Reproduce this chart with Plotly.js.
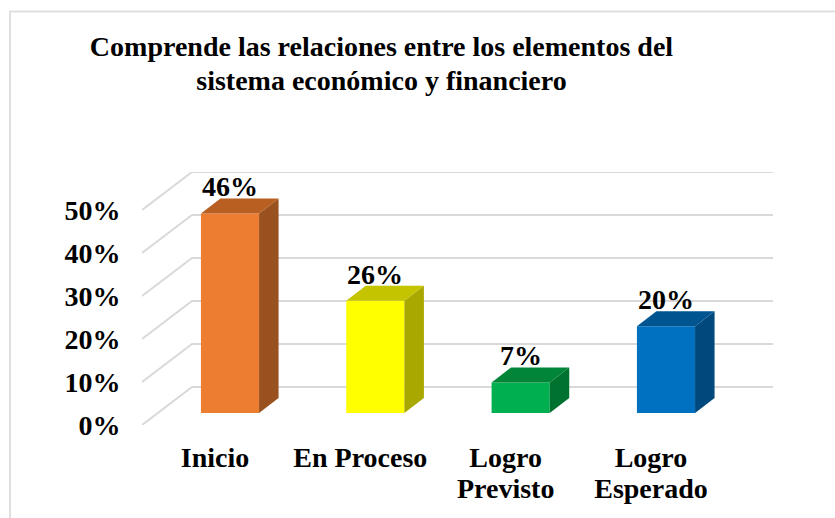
<!DOCTYPE html>
<html><head><meta charset="utf-8">
<script src="https://cdn.plot.ly/plotly-3.0.1.min.js"></script>
<style>html,body{margin:0;padding:0;background:#fff;overflow:hidden}#c{width:835px;height:518px}</style>
</head><body><div id="c"></div>
<script>
const categories = ['Inicio','En Proceso','Logro<br>Previsto','Logro<br>Esperado'];
const values = [46.4,26.1,7.1,20.2];
const yTicks = [0,10,20,30,40,50];
const frontColors = ['#ED7D31','#FFFF00','#00B050','#0070C0'];
const sideColors = ['#9A5120','#A8A800','#00722F','#00497D'];
const topColors = ['#B95F22','#C4C400','#008539','#005490'];
const titleText = 'Comprende las relaciones entre los elementos del<br>sistema económico y financiero';
const FONT = '"Liberation Serif","Times New Roman",serif';

// pixel frame of the plot
const L=142,R=773,T=172,B=425,W=835,H=518;
const pxX=145.33, pxY=4.3;         // pixels per category / per percent
const barX0=230, barY0=413;        // where category 0 / value 0 of the bars fall
const labX0=215;                   // where category 0 of the axis labels falls
const barW=0.4;
const depthX=19.5/pxX, depthY=15/pxY;
const wallX=50, wallY=38;          // floor depth in px

const xBarRange=[(L-barX0)/pxX,(R-barX0)/pxX];
const yBarRange=[(barY0-B)/pxY,(barY0-T)/pxY];
const xLabRange=[(L-labX0)/pxX,(R-labX0)/pxX];
const yLabRange=[0,(B-T)/pxY];

const traces=[];
// gridlines: the floor/side diagonal plus the back wall line, in label axes
yTicks.forEach(t=>{
  const x0=xLabRange[0], x1=x0+wallX/pxX, x2=xLabRange[1];
  const y1=t+wallY/pxY;
  traces.push({type:'scatter',mode:'lines',x:[x0,x1,x2],y:[t,y1,y1],xaxis:'x',yaxis:'y',
    line:{color:'#D9D9D9',width:2},hoverinfo:'skip',showlegend:false,cliponaxis:false});
});
// front faces
traces.push({type:'bar',x:categories.map((_,i)=>i),y:values,width:barW,xaxis:'x2',yaxis:'y2',
  marker:{color:frontColors,line:{width:0}},showlegend:false,hoverinfo:'skip'});
// side + top faces
values.forEach((v,i)=>{
  const r=i+barW/2,l=i-barW/2;
  traces.push({type:'scatter',mode:'lines',x:[r,r+depthX,r+depthX,r,r],y:[0,depthY,v+depthY,v,0],
    xaxis:'x2',yaxis:'y2',fill:'toself',fillcolor:sideColors[i],line:{width:0,color:sideColors[i]},
    hoverinfo:'skip',showlegend:false});
  traces.push({type:'scatter',mode:'lines',x:[l,r,r+depthX,l+depthX,l],y:[v,v,v+depthY,v+depthY,v],
    xaxis:'x2',yaxis:'y2',fill:'toself',fillcolor:topColors[i],line:{width:0,color:topColors[i]},
    hoverinfo:'skip',showlegend:false});
});
const labelFont={family:FONT,size:28,color:'#000',weight:700};
const annotations=values.map((v,i)=>({xref:'x2',yref:'y2',x:i,y:v,text:Math.round(v)+'%',showarrow:false,
  xanchor:'center',yanchor:'bottom',yshift:9,xshift:0,font:labelFont}));

const frameY=y=>(B-y)/(B-T), frameX=x=>(x-L)/(R-L);
const frameLine={color:'#DFDFDF',width:2};
const layout={
  width:W,height:H,paper_bgcolor:'#fff',plot_bgcolor:'rgba(0,0,0,0)',showlegend:false,
  margin:{l:L,r:W-R,t:T,b:H-B,pad:0},
  title:{text:titleText,x:381.5/W,xanchor:'center',xref:'container',y:1-56/H,yanchor:'top',font:{family:FONT,size:28,color:'#000',weight:700}},
  xaxis:{range:xLabRange,tickmode:'array',tickvals:categories.map((_,i)=>i),ticktext:categories,
    showgrid:false,zeroline:false,showline:false,ticks:'outside',ticklen:7,tickcolor:'rgba(0,0,0,0)',tickfont:labelFont,tickangle:0,fixedrange:true},
  yaxis:{range:yLabRange,tickmode:'array',tickvals:yTicks,ticktext:yTicks.map(t=>t+'%'),
    showgrid:false,zeroline:false,showline:false,ticks:'outside',ticklen:15,tickcolor:'rgba(0,0,0,0)',tickfont:labelFont,fixedrange:true},
  xaxis2:{range:xBarRange,overlaying:'x',visible:false,fixedrange:true},
  yaxis2:{range:yBarRange,overlaying:'y',visible:false,fixedrange:true},
  annotations,
  shapes:[
    {type:'line',xref:'paper',yref:'paper',x0:frameX(9),x1:frameX(835),y0:frameY(11.5),y1:frameY(11.5),line:frameLine,layer:'below'},
    {type:'line',xref:'paper',yref:'paper',x0:frameX(10),x1:frameX(10),y0:frameY(11),y1:frameY(518),line:frameLine,layer:'below'}
  ]
};
function tightenLines(){
  document.querySelectorAll('.xtick text').forEach(t=>{
    t.querySelectorAll('tspan.line').forEach((s,i)=>{ if(i>0) s.setAttribute('dy',(i*1.11)+'em'); });
  });
  document.querySelectorAll('.gtitle tspan.line').forEach((s,i)=>{ if(i>0) s.setAttribute('dy',(i*1.2)+'em'); });
}
Plotly.newPlot('c',traces,layout,{displayModeBar:false,staticPlot:true}).then(tightenLines);
</script></body></html>
